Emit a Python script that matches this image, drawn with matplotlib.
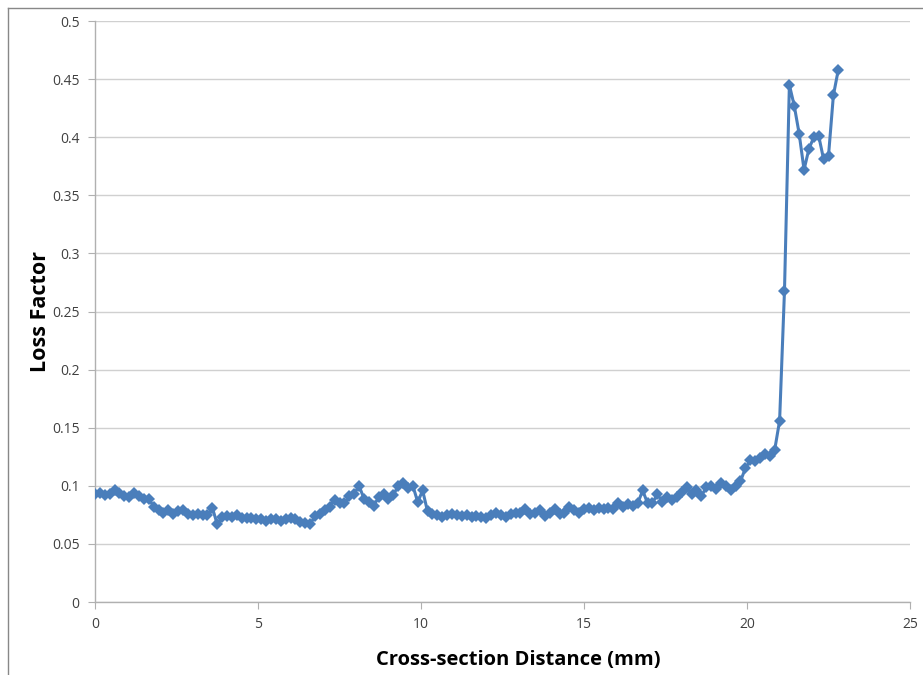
import matplotlib.pyplot as plt
from matplotlib.lines import Line2D

# Cross-section loss factor data
distance_mm = [
    0.0, 0.15, 0.3, 0.45, 0.6, 0.75, 0.9, 1.05, 1.2, 1.35,
    1.5, 1.65, 1.8, 1.95, 2.1, 2.25, 2.4, 2.55, 2.7, 2.85,
    3.0, 3.15, 3.3, 3.45, 3.6, 3.75, 3.9, 4.05, 4.2, 4.35,
    4.5, 4.65, 4.8, 4.95, 5.1, 5.25, 5.4, 5.55, 5.7, 5.85,
    6.0, 6.15, 6.3, 6.45, 6.6, 6.75, 6.9, 7.05, 7.2, 7.35,
    7.5, 7.65, 7.8, 7.95, 8.1, 8.25, 8.4, 8.55, 8.7, 8.85,
    9.0, 9.15, 9.3, 9.45, 9.6, 9.75, 9.9, 10.05, 10.2, 10.35,
    10.5, 10.65, 10.8, 10.95, 11.1, 11.25, 11.4, 11.55, 11.7, 11.85,
    12.0, 12.15, 12.3, 12.45, 12.6, 12.75, 12.9, 13.05, 13.2, 13.35,
    13.5, 13.65, 13.8, 13.95, 14.1, 14.25, 14.4, 14.55, 14.7, 14.85,
    15.0, 15.15, 15.3, 15.45, 15.6, 15.75, 15.9, 16.05, 16.2, 16.35,
    16.5, 16.65, 16.8, 16.95, 17.1, 17.25, 17.4, 17.55, 17.7, 17.85,
    18.0, 18.15, 18.3, 18.45, 18.6, 18.75, 18.9, 19.05, 19.2, 19.35,
    19.5, 19.65, 19.8, 19.95, 20.1, 20.25, 20.4, 20.55, 20.7, 20.85,
    21.0, 21.15, 21.3, 21.45, 21.6, 21.75, 21.9, 22.05, 22.2, 22.35,
    22.5, 22.65, 22.8,
]
loss_factor = [
    0.093, 0.094, 0.092, 0.093, 0.096, 0.094, 0.091, 0.090, 0.094, 0.091,
    0.089, 0.089, 0.082, 0.079, 0.077, 0.079, 0.076, 0.078, 0.079, 0.076,
    0.075, 0.076, 0.075, 0.075, 0.081, 0.067, 0.073, 0.074, 0.073, 0.075,
    0.072, 0.072, 0.072, 0.071, 0.071, 0.070, 0.071, 0.071, 0.070, 0.071,
    0.072, 0.071, 0.069, 0.068, 0.067, 0.074, 0.076, 0.079, 0.082, 0.088,
    0.085, 0.085, 0.091, 0.093, 0.100, 0.089, 0.086, 0.083, 0.090, 0.093,
    0.089, 0.092, 0.100, 0.102, 0.098, 0.100, 0.086, 0.096, 0.078, 0.076,
    0.075, 0.073, 0.075, 0.076, 0.075, 0.074, 0.075, 0.073, 0.074, 0.073,
    0.072, 0.075, 0.077, 0.075, 0.073, 0.076, 0.077, 0.077, 0.080, 0.076,
    0.077, 0.079, 0.074, 0.077, 0.080, 0.076, 0.077, 0.082, 0.079, 0.077,
    0.080, 0.081, 0.079, 0.081, 0.080, 0.081, 0.080, 0.085, 0.082, 0.084,
    0.083, 0.085, 0.096, 0.085, 0.085, 0.093, 0.086, 0.090, 0.088, 0.090,
    0.095, 0.099, 0.093, 0.096, 0.091, 0.099, 0.100, 0.097, 0.102, 0.100,
    0.096, 0.100, 0.104, 0.115, 0.122, 0.121, 0.124, 0.127, 0.126, 0.131,
    0.156, 0.268, 0.445, 0.427, 0.403, 0.372, 0.390, 0.400, 0.401, 0.381,
    0.384, 0.436, 0.458,
]
x_ticks = [0, 5, 10, 15, 20, 25]
y_ticks = [0, 0.05, 0.1, 0.15, 0.2, 0.25, 0.3, 0.35, 0.4, 0.45, 0.5]
y_tick_labels = ["0", "0.05", "0.1", "0.15", "0.2", "0.25", "0.3", "0.35", "0.4", "0.45", "0.5"]

plt.rcParams['font.family'] = ['Open Sans', 'DejaVu Sans']

fig = plt.figure(figsize=(9.23, 6.75), dpi=100)
ax = fig.add_axes([95 / 923, 1 - 602 / 675, 815 / 923, 581 / 675])

ax.plot(distance_mm, loss_factor, color='#4a7ebb', linewidth=2.2,
        marker='D', markersize=6.5, markeredgewidth=0, zorder=3)

ax.set_xlim(0, 25)
ax.set_ylim(0, 0.5)
ax.set_xticks(x_ticks)
ax.set_yticks(y_ticks)
ax.set_yticklabels(y_tick_labels)
ax.grid(axis='y', color='#d0d0d0', linewidth=1.0)
ax.set_axisbelow(True)

for side in ('top', 'right'):
    ax.spines[side].set_visible(False)
for side in ('left', 'bottom'):
    ax.spines[side].set_color('#b0b0b0')
    ax.spines[side].set_linewidth(1.0)
ax.tick_params(axis='both', direction='out', length=5, color='#b0b0b0',
               labelsize=10, labelcolor='#404040', pad=6)

# axis titles placed like the original chart
fig.text(518 / 923, 1 - 660 / 675, "Cross-section Distance (mm)", fontsize=14.5,
         fontweight='bold', color='black', ha='center', va='center')
fig.text(40 / 923, 1 - 312 / 675, "Loss Factor", fontsize=15.5,
         fontweight='bold', color='black', ha='center', va='center', rotation=90)

# chart-area border (left and top edges visible)
fig.add_artist(Line2D([8 / 923, 8 / 923], [0, 1 - 8 / 675],
                      transform=fig.transFigure, color='#888888', linewidth=1.0))
fig.add_artist(Line2D([8 / 923, 1], [1 - 8 / 675, 1 - 8 / 675],
                      transform=fig.transFigure, color='#888888', linewidth=1.0))

fig.savefig("out.png", dpi=100)
